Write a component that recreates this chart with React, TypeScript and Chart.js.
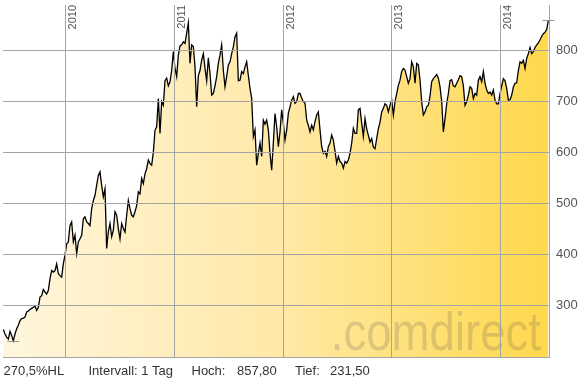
import { useEffect, useRef } from 'react';
import { Chart, registerables } from 'chart.js';

Chart.register(...registerables);

// Sampled closing prices (about every 4 trading days), mid-2009 to mid-2014
const START_YEAR = 2009.426;
const STEP_YEARS = 0.01534;
const closes = [
  254, 245, 239, 235, 250, 242, 231.5, 245, 255, 262,
  271, 275, 276, 278, 288, 290, 293, 295, 297, 300,
  291, 297, 317, 320, 332, 327, 323, 330, 353, 369,
  366, 369, 382, 363, 359, 356, 382, 399, 421, 425,
  457, 464, 425, 438, 402, 425, 431, 438, 470, 474,
  464, 461, 457, 490, 506, 516, 536, 555, 562, 535,
  513, 529, 412, 445, 461, 435, 448, 484, 477, 451,
  431, 461, 451, 444, 477, 506, 490, 477, 474, 484,
  496, 523, 519, 549, 539, 558, 568, 585, 578, 575,
  600, 643, 650, 705, 637, 699, 692, 740, 745, 730,
  738, 760, 797, 764, 748, 790, 808, 810, 816, 813,
  833, 853, 774, 810, 807, 767, 689, 750, 760, 780,
  793, 764, 740, 785, 754, 712, 715, 730, 748, 774,
  790, 810, 760, 728, 748, 771, 777, 793, 806, 826,
  833, 740, 741, 758, 754, 767, 777, 750, 725, 705,
  631, 644, 575, 598, 618, 592, 663, 655, 663, 644,
  598, 565, 618, 676, 650, 611, 640, 683, 657, 624,
  644, 676, 689, 702, 709, 696, 699, 715, 715, 706,
  699, 696, 663, 653, 640, 653, 644, 660, 673, 679,
  644, 611, 598, 602, 592, 611, 618, 634, 624, 602,
  579, 592, 582, 579, 569, 582, 579, 585, 598, 618,
  647, 637, 637, 683, 686, 657, 631, 666, 646, 633,
  620, 627, 610, 607, 627, 646, 659, 679, 686, 695,
  692, 679, 692, 702, 673, 699, 715, 731, 741, 758,
  764, 761, 748, 735, 744, 777, 767, 735, 774, 771,
  741, 699, 673, 679, 689, 692, 710, 738, 744, 748,
  752, 745, 728, 700, 640, 666, 695, 715, 740, 742,
  730, 728, 735, 742, 750, 748, 730, 692, 699, 712,
  728, 725, 705, 715, 712, 741, 748, 738, 758, 735,
  722, 715, 718, 712, 722, 702, 695, 695, 715, 730,
  744, 740, 725, 702, 703, 712, 728, 735, 736, 760,
  777, 774, 780, 764, 784, 793, 805, 793, 797, 805,
  810, 814, 820, 827, 832, 835, 840, 857.8,
];

const X_MIN = 2009.423;
const X_MAX = 2014.448;
const Y_MIN = 200;
const Y_MAX = 888;
const yearTicks = [2010, 2011, 2012, 2013, 2014];
const priceTicks = [300, 400, 500, 600, 700, 800];
const footerTexts = ['270,5%HL', 'Intervall: 1 Tag', 'Hoch:', '857,80', 'Tief:', '231,50'];
const footerX = [3.5, 88.5, 191.5, 237, 295, 330];
const watermark = '.comdirect';

const FONT = '"Liberation Sans", Arial, sans-serif';
const GRID = '#a4a4a4';

export default function App() {
  const ref = useRef<HTMLCanvasElement | null>(null);

  useEffect(() => {
    document.body.style.margin = '0';
    const canvas = ref.current;
    if (!canvas) return;

    const points = closes.map((v, i) => ({ x: START_YEAR + i * STEP_YEARS, y: v }));

    const overlay = {
      id: 'overlay',
      afterDatasetsDraw(chart: any) {
        const { ctx, chartArea } = chart;
        ctx.save();
        ctx.fillStyle = 'rgba(95,90,80,0.22)';
        ctx.font = `53px ${FONT}`;
        ctx.textAlign = 'right';
        ctx.textBaseline = 'alphabetic';
        ctx.translate(chartArea.right - 8, chartArea.bottom - 7);
        ctx.scale(0.86, 1);
        ctx.fillText(watermark, 0, 0);
        ctx.restore();
      },
      afterDraw(chart: any) {
        const { ctx, chartArea, scales } = chart;
        const xs = scales.x;
        const ys = scales.y;
        ctx.save();
        // year labels
        ctx.fillStyle = '#555';
        ctx.font = `11px ${FONT}`;
        yearTicks.forEach((yr) => {
          const px = xs.getPixelForValue(yr);
          ctx.save();
          ctx.translate(px + 10.5, chartArea.top);
          ctx.rotate(-Math.PI / 2);
          ctx.textAlign = 'right';
          ctx.textBaseline = 'alphabetic';
          ctx.fillText(String(yr), 0, 0);
          ctx.restore();
        });
        // high / low markers
        let hi = 0, lo = 0;
        closes.forEach((v, i) => {
          if (v > closes[hi]) hi = i;
          if (v < closes[lo]) lo = i;
        });
        ctx.strokeStyle = '#999';
        ctx.lineWidth = 1;
        [hi, lo].forEach((i) => {
          const px = xs.getPixelForValue(points[i].x);
          const py = Math.round(ys.getPixelForValue(points[i].y)) + 0.5;
          ctx.beginPath();
          ctx.moveTo(px - 6, py);
          ctx.lineTo(px + 6, py);
          ctx.stroke();
        });
        // footer
        ctx.fillStyle = '#333';
        ctx.font = `13px ${FONT}`;
        ctx.textAlign = 'left';
        ctx.textBaseline = 'alphabetic';
        footerTexts.forEach((t, i) => ctx.fillText(t, footerX[i], 375));
        ctx.restore();
      },
    };

    const chart = new Chart(canvas, {
      type: 'line',
      data: {
        datasets: [
          {
            data: points,
            borderColor: '#000',
            borderWidth: 1.3,
            pointRadius: 0,
            tension: 0,
            fill: 'start',
            backgroundColor: (c: any) => {
              const { chart: ch } = c;
              const area = ch.chartArea;
              if (!area) return '#ffe9a0';
              const g = ch.ctx.createLinearGradient(area.left, 0, area.right, 0);
              g.addColorStop(0, '#fff6dd');
              g.addColorStop(0.5, '#ffe9a8');
              g.addColorStop(1, '#ffd84c');
              return g;
            },
          },
        ],
      },
      options: {
        animation: false,
        responsive: false,
        events: [],
        layout: { padding: { left: 3, top: 5, right: 0, bottom: 0 } },
        plugins: { legend: { display: false }, tooltip: { enabled: false } },
        scales: {
          x: {
            type: 'linear',
            min: X_MIN,
            max: X_MAX,
            afterBuildTicks: (s: any) => {
              s.ticks = yearTicks.map((v) => ({ value: v }));
            },
            afterFit: (s: any) => {
              s.height = 21;
              s.paddingLeft = 0;
              s.paddingRight = 0;
            },
            ticks: { display: false },
            grid: { color: GRID, drawTicks: false, z: 1 },
            border: { display: true, color: GRID, z: 1 },
          },
          y: {
            position: 'right',
            min: Y_MIN,
            max: Y_MAX,
            afterBuildTicks: (s: any) => {
              s.ticks = priceTicks.map((v) => ({ value: v }));
            },
            afterFit: (s: any) => {
              s.width = 33;
              s.paddingTop = 0;
              s.paddingBottom = 0;
            },
            ticks: { color: '#555', font: { family: FONT, size: 13 }, padding: 7 },
            grid: { color: GRID, drawTicks: false, z: 1 },
            border: { display: true, color: GRID, z: 1 },
          },
        },
      },
      plugins: [overlay],
    } as any);

    return () => chart.destroy();
  }, []);

  return <canvas ref={ref} width={582} height={378} style={{ display: 'block' }} />;
}
